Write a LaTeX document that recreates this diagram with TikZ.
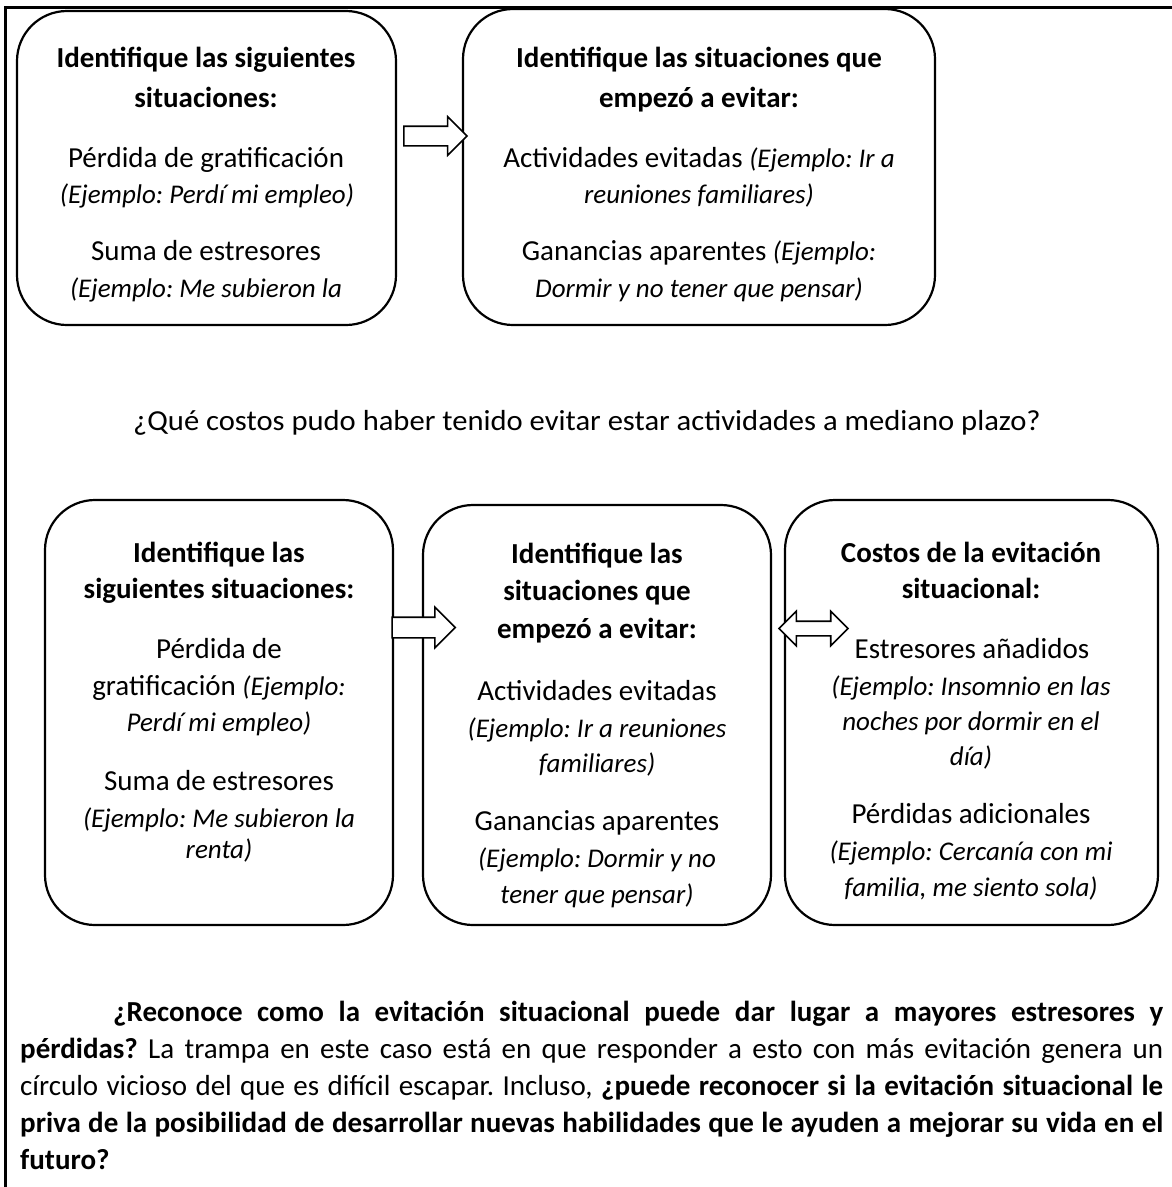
\documentclass[tikz,border=0pt]{standalone}
\usepackage{fontspec}
\setmainfont{Carlito}
\usetikzlibrary{shapes.arrows}
\newcommand{\ejem}[1]{{\fontsize{27}{36}\selectfont\itshape #1}}
\begin{document}
\frenchspacing
\begin{tikzpicture}[x=1pt,y=-1pt,
  roundbox/.style={draw, line width=2.2pt, rounded corners=50pt, inner sep=0pt},
  txt/.style={anchor=base, inner sep=0pt, font=\fontsize{29}{36}\selectfont},
  btxt/.style={txt, font=\fontsize{29}{36}\selectfont\bfseries},
  itxt/.style={txt, font=\fontsize{27}{36}\selectfont\itshape},
  blockarrow/.style={draw, fill=white, line width=1.6pt, inner xsep=0pt}
]
\useasboundingbox (0,0) rectangle (1172,1187);
% outer frame
\coordinate (fbl) at (5,1187);
\coordinate (ftl) at (5,7);
\coordinate (ftr) at (1172,7);
\draw[line width=3pt] (fbl) -- (ftl) -- (ftr);

% boxes
\node[roundbox, minimum width=379pt, minimum height=314pt] (b1) at (206.5,168) {};
\node[roundbox, minimum width=472pt, minimum height=316pt] (b2) at (699,167) {};
\node[roundbox, minimum width=348pt, minimum height=425pt] (b3) at (219,712.5) {};
\node[roundbox, minimum width=348pt, minimum height=420pt] (b4) at (597,715) {};
\node[roundbox, minimum width=373pt, minimum height=425pt] (b5) at (971.5,712.5) {};

% box 1 text
\node[btxt] (t1a) at (206,67) {Identifique las siguientes};
\node[btxt] (t1b) at (206,107) {situaciones:};
\node[txt]  (t1c) at (206,167) {Pérdida de gratificación};
\node[itxt] (t1d) at (207,203) {(Ejemplo: Perdí mi empleo)};
\node[txt]  (t1e) at (206,260) {Suma de estresores};
\node[itxt] (t1f) at (206,297) {(Ejemplo: Me subieron la};

% box 2 text
\node[btxt] (t2a) at (699,67) {Identifique las situaciones que};
\node[btxt] (t2b) at (699,107) {empezó a evitar:};
\node[txt]  (t2c) at (699,167) {Actividades evitadas \ejem{(Ejemplo: Ir a}};
\node[itxt] (t2d) at (699,203) {reuniones familiares)};
\node[txt]  (t2e) at (699,260) {Ganancias aparentes \ejem{(Ejemplo:}};
\node[itxt] (t2f) at (699,297) {Dormir y no tener que pensar)};

% middle question
\node[txt, anchor=base west] (q) at (133,430) {\scalebox{1.055}[1]{¿Qué costos pudo haber tenido evitar estar actividades a mediano plazo?}};

% box 3 text
\node[btxt] (t3a) at (219,562) {Identifique las};
\node[btxt] (t3b) at (219,598) {siguientes situaciones:};
\node[txt]  (t3c) at (219,658) {Pérdida de};
\node[txt]  (t3d) at (219,695) {gratificación \ejem{(Ejemplo:}};
\node[itxt] (t3e) at (219,731) {Perdí mi empleo)};
\node[txt]  (t3f) at (219,790) {Suma de estresores};
\node[itxt] (t3g) at (219,827) {(Ejemplo: Me subieron la};
\node[itxt] (t3h) at (219,858) {renta)};

% box 4 text
\node[btxt] (t4a) at (597,563) {Identifique las};
\node[btxt] (t4b) at (597,600) {situaciones que};
\node[btxt] (t4c) at (597,638) {empezó a evitar:};
\node[txt]  (t4d) at (597,700) {Actividades evitadas};
\node[itxt] (t4e) at (597,737) {(Ejemplo: Ir a reuniones};
\node[itxt] (t4f) at (597,772) {familiares)};
\node[txt]  (t4g) at (597,830) {Ganancias aparentes};
\node[itxt] (t4h) at (597,867) {(Ejemplo: Dormir y no};
\begin{scope}
  \clip (430,880) rectangle (765,907);
  \node[itxt] (t4i) at (597,903) {tener que pensar)};
\end{scope}

% box 5 text
\node[btxt] (t5a) at (971,562) {Costos de la evitación};
\node[btxt] (t5b) at (971,598) {situacional:};
\node[txt]  (t5c) at (972,658) {Estresores añadidos};
\node[itxt] (t5d) at (971,695) {(Ejemplo: Insomnio en las};
\node[itxt] (t5e) at (971,730) {noches por dormir en el};
\node[itxt] (t5f) at (971,765) {día)};
\node[txt]  (t5g) at (971,823) {Pérdidas adicionales};
\node[itxt] (t5h) at (971,860) {(Ejemplo: Cercanía con mi};
\begin{scope}
  \clip (790,870) rectangle (1150,900);
  \node[itxt] (t5i) at (971,896) {familia, me siento sola)};
\end{scope}

% block arrows
\node[blockarrow, single arrow, inner ysep=9pt, single arrow head extend=9.5pt,
      minimum height=63pt] (a1) at (430.5,136) {};
\node[blockarrow, single arrow, inner ysep=9.5pt, single arrow head extend=10pt,
      minimum height=63pt] (a2) at (418.5,627.5) {};
\node[blockarrow, double arrow, inner ysep=6.5pt, double arrow head extend=10pt,
      minimum height=69pt] (a3) at (813.5,628.5) {};

% bottom paragraph
\node[anchor=base west, inner sep=0pt, text width=1143pt, align=justify,
      font=\fontsize{29}{37}\selectfont] (para) at (20,1021) {%
\hspace*{93pt}\textbf{¿Reconoce como la evitación situacional puede dar lugar a mayores estresores y}\linebreak
\textbf{pérdidas?} La trampa en este caso está en que responder a esto con más evitación genera un\linebreak
círculo vicioso del que es difícil escapar. Incluso, \textbf{¿puede reconocer si la evitación situacional le}\linebreak
\textbf{priva de la posibilidad de desarrollar nuevas habilidades que le ayuden a mejorar su vida en el}\linebreak
\textbf{futuro?}};
\end{tikzpicture}
\end{document}
